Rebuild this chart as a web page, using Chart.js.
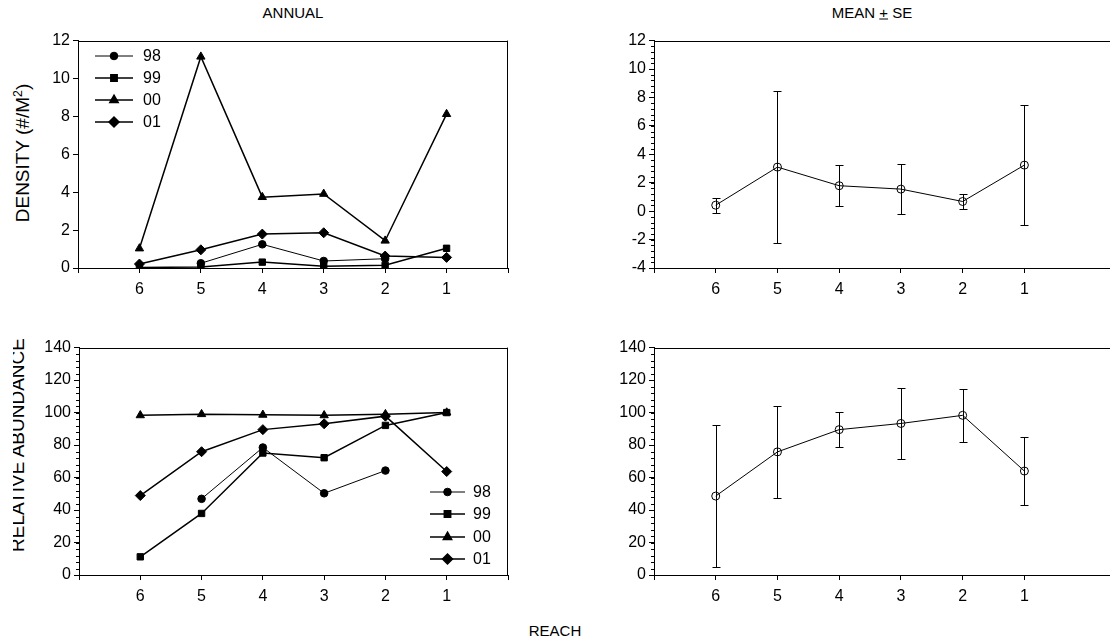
<!DOCTYPE html>
<html>
<head>
<meta charset="utf-8">
<script src="https://cdn.jsdelivr.net/npm/chart.js@4.4.1/dist/chart.umd.min.js"></script>
<style>
body { margin: 0; width: 1110px; height: 644px; overflow: hidden; background: #fff; position: relative;
       font-family: 'Liberation Sans', Arial, sans-serif; color: #000; }
.box { position: absolute; }
.txt { position: absolute; white-space: nowrap; line-height: 1; transform: translate(-50%, -50%); }
.rot { transform: translate(-50%, -50%) rotate(-90deg); }
.clip { position: absolute; overflow: hidden; }
sup { font-size: 65%; vertical-align: 0.55em; line-height: 0; }
</style>
</head>
<body>
<div class="txt" style="left:293px;top:12px;font-size:15px">ANNUAL</div>
<div class="txt" style="left:872px;top:12px;font-size:15px">MEAN <u>+</u> SE</div>
<div class="txt" style="left:555px;top:630px;font-size:15px">REACH</div>
<div class="txt rot" style="left:22px;top:153px;font-size:19px">DENSITY (#/M<sup>2</sup>)</div>
<div class="clip" style="left:13px;top:320px;width:40px;height:260px">
  <div class="txt rot" style="left:4px;top:125px;font-size:19px">RELATIVE ABUNDANCE</div>
</div>

<div class="box" style="left:38px;top:28px;width:480px;height:270px"><canvas id="c1"></canvas></div>
<div class="box" style="left:614px;top:28px;width:508px;height:270px"><canvas id="c2"></canvas></div>
<div class="box" style="left:39px;top:335px;width:479px;height:270px"><canvas id="c3"></canvas></div>
<div class="box" style="left:614px;top:335px;width:508px;height:270px"><canvas id="c4"></canvas></div>

<script>
// reaches in plotting order, left to right
const reaches = [6, 5, 4, 3, 2, 1];
const years = ['98', '99', '00', '01'];

// density (#/m2) per year
const density98 = [null, 0.25, 1.25, 0.37, 0.49, null];
const density99 = [0.03, 0.05, 0.31, 0.09, 0.14, 1.04];
const density00 = [1.03, 11.15, 3.74, 3.91, 1.44, 8.12];
const density01 = [0.21, 0.96, 1.79, 1.86, 0.63, 0.56];
const densityMean = [0.42, 3.10, 1.79, 1.55, 0.68, 3.24];
const densitySE = [0.52, 5.36, 1.45, 1.75, 0.55, 4.20];

// relative abundance per year
const abund98 = [null, 46.9, 78.5, 50.3, 64.3, null];
const abund99 = [11.2, 37.9, 75.1, 72.2, 92.1, 100];
const abund00 = [98.3, 99.0, 98.6, 98.3, 99.0, 100];
const abund01 = [48.9, 75.9, 89.5, 93.1, 97.8, 63.7];
const abundMean = [48.6, 75.8, 89.5, 93.3, 98.3, 64.0];
const abundSE = [43.7, 28.1, 10.7, 21.9, 16.5, 20.8];

Chart.defaults.font.family = "'Liberation Sans', Arial, sans-serif";
Chart.defaults.font.size = 16;
Chart.defaults.color = '#000';
Chart.defaults.animation = false;

const toPoints = arr => arr.map((v, i) => ({ x: i + 1, y: v }));

const yearStyles = [
    { pointStyle: 'circle', radius: 3.8, borderWidth: 1 },
    { pointStyle: 'rect', radius: 4.5, borderWidth: 1.5 },
    { pointStyle: 'triangle', radius: 4.8, borderWidth: 1.5 },
    { pointStyle: 'rectRot', radius: 5, borderWidth: 1.5 }
];

function yearDatasets(series) {
    return series.map((arr, k) => ({
        label: years[k],
        data: toPoints(arr),
        borderColor: '#000',
        backgroundColor: '#000',
        borderWidth: yearStyles[k].borderWidth,
        pointStyle: yearStyles[k].pointStyle,
        pointRadius: yearStyles[k].radius,
        pointBorderWidth: 1,
        spanGaps: false
    }));
}

function meanDataset(arr) {
    return [{
        data: toPoints(arr),
        borderColor: '#000',
        borderWidth: 1,
        pointStyle: 'circle',
        pointRadius: 4,
        pointBorderWidth: 1,
        pointBackgroundColor: 'rgba(0,0,0,0)',
        pointBorderColor: '#000'
    }];
}

// top and right frame lines
const frame = {
    id: 'frame',
    afterDraw(chart, args, opts) {
        const { ctx, chartArea: a } = chart;
        ctx.save();
        ctx.strokeStyle = '#000';
        ctx.lineWidth = 1;
        ctx.beginPath();
        ctx.moveTo(a.left, Math.round(a.top) + 0.5);
        ctx.lineTo(a.right, Math.round(a.top) + 0.5);
        if (opts.right) {
            ctx.moveTo(Math.round(a.right) - 0.5, a.top);
            ctx.lineTo(Math.round(a.right) - 0.5, a.bottom);
        }
        ctx.stroke();
        ctx.restore();
    }
};

// small ticks on the y axis between the labelled ones
const minorTicks = {
    id: 'minorTicks',
    afterDraw(chart, args, opts) {
        if (!opts.step) return;
        const { ctx } = chart;
        const y = chart.scales.y;
        const left = chart.chartArea.left;
        ctx.save();
        ctx.strokeStyle = '#000';
        ctx.lineWidth = 1;
        ctx.beginPath();
        const n = Math.round((y.max - y.min) / opts.step);
        for (let i = 1; i < n; i++) {
            const v = y.min + i * opts.step;
            const py = Math.round(y.getPixelForValue(v)) + 0.5;
            ctx.moveTo(left - 3, py);
            ctx.lineTo(left, py);
        }
        ctx.stroke();
        ctx.restore();
    }
};

const errorBars = {
    id: 'errorBars',
    afterDatasetsDraw(chart, args, opts) {
        if (!opts.se) return;
        const { ctx } = chart;
        const x = chart.scales.x, y = chart.scales.y;
        ctx.save();
        ctx.strokeStyle = '#000';
        ctx.lineWidth = 1;
        ctx.beginPath();
        opts.mean.forEach((m, i) => {
            const px = Math.round(x.getPixelForValue(i + 1)) + 0.5;
            const top = Math.round(y.getPixelForValue(m + opts.se[i])) + 0.5;
            const bot = Math.round(y.getPixelForValue(m - opts.se[i])) + 0.5;
            ctx.moveTo(px, top); ctx.lineTo(px, bot);
            ctx.moveTo(px - 4, top); ctx.lineTo(px + 4, top);
            ctx.moveTo(px - 4, bot); ctx.lineTo(px + 4, bot);
        });
        ctx.stroke();
        ctx.restore();
    }
};

// legend drawn inside the plot area
const innerLegend = {
    id: 'innerLegend',
    afterDraw(chart, args, opts) {
        if (!opts.rows) return;
        const { ctx } = chart;
        ctx.save();
        ctx.font = "16px 'Liberation Sans', Arial, sans-serif";
        ctx.textBaseline = 'middle';
        ctx.fillStyle = '#000';
        chart.data.datasets.forEach((ds, k) => {
            const yy = opts.rows[k];
            ctx.strokeStyle = '#000';
            ctx.lineWidth = ds.borderWidth;
            ctx.beginPath();
            ctx.moveTo(opts.x0, yy);
            ctx.lineTo(opts.x1, yy);
            ctx.stroke();
            ctx.fillStyle = '#000';
            Chart.helpers.drawPoint(ctx, {
                pointStyle: ds.pointStyle, radius: ds.pointRadius, borderWidth: 1
            }, (opts.x0 + opts.x1) / 2, yy);
            ctx.fillText(ds.label, opts.textX, yy + 1);
        });
        ctx.restore();
    }
};

function makeChart(id, datasets, yOpts, extra) {
    const maxX = extra.maxX;
    const lastTick = extra.lastTick;
    return new Chart(document.getElementById(id), {
        type: 'line',
        data: { datasets },
        plugins: [frame, minorTicks, errorBars, innerLegend],
        options: {
            responsive: true,
            maintainAspectRatio: false,
            devicePixelRatio: 1,
            layout: { padding: { top: 10, right: extra.padRight, left: 0, bottom: 0 } },
            plugins: {
                legend: { display: false },
                tooltip: { enabled: false },
                frame: { right: extra.frameRight },
                minorTicks: { step: yOpts.minor },
                errorBars: extra.errors || {},
                innerLegend: extra.legend || {}
            },
            scales: {
                x: {
                    type: 'linear',
                    min: 0,
                    max: maxX,
                    afterFit: s => { s.height = 30; },
                    afterBuildTicks: s => {
                        s.ticks = s.ticks.filter(t => Number.isInteger(t.value) && t.value <= lastTick);
                    },
                    ticks: {
                        stepSize: 1,
                        padding: 7,
                        maxRotation: 0,
                        autoSkip: false,
                        callback: v => (v >= 1 && v <= reaches.length) ? String(reaches[v - 1]) : ''
                    },
                    grid: { drawOnChartArea: false, drawTicks: true, tickLength: 5, color: '#000' },
                    border: { display: true, color: '#000', width: 1 }
                },
                y: {
                    min: yOpts.min,
                    max: yOpts.max,
                    afterFit: s => { s.width = 40; },
                    ticks: { stepSize: yOpts.step, padding: 3 },
                    grid: { drawOnChartArea: false, drawTicks: true, tickLength: 5, color: '#000' },
                    border: { display: true, color: '#000', width: 1 }
                }
            }
        }
    });
}

makeChart('c1', yearDatasets([density98, density99, density00, density01]),
    { min: 0, max: 12, step: 2, minor: 0 },
    { maxX: 7, lastTick: 7, padRight: 10, frameRight: true,
      legend: { x0: 57, x1: 95, textX: 105, rows: [28, 50, 72, 94] } });

makeChart('c2', meanDataset(densityMean),
    { min: -4, max: 12, step: 2, minor: 0.4 },
    { maxX: 7.5, lastTick: 6, padRight: 0, frameRight: false,
      errors: { mean: densityMean, se: densitySE } });

makeChart('c3', yearDatasets([abund98, abund99, abund00, abund01]),
    { min: 0, max: 140, step: 20, minor: 4 },
    { maxX: 7, lastTick: 7, padRight: 10, frameRight: true,
      legend: { x0: 391, x1: 426, textX: 434, rows: [157, 179, 202, 224] } });

makeChart('c4', meanDataset(abundMean),
    { min: 0, max: 140, step: 20, minor: 4 },
    { maxX: 7.5, lastTick: 6, padRight: 0, frameRight: false,
      errors: { mean: abundMean, se: abundSE } });
</script>
</body>
</html>
